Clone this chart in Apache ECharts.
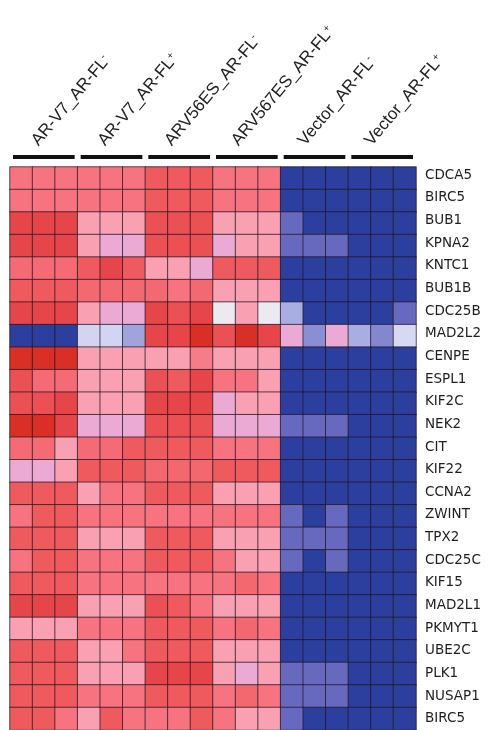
<!DOCTYPE html>
<html><head><meta charset="utf-8">
<script src="https://cdn.jsdelivr.net/npm/echarts@6/dist/echarts.min.js"></script>
<style>html,body{margin:0;padding:0;background:#fff}#c{width:489px;height:730px}</style>
</head><body><div id="c"></div>
<script>
// ---- data ----
const genes = ['CDCA5','BIRC5','BUB1','KPNA2','KNTC1','BUB1B','CDC25B','MAD2L2','CENPE','ESPL1','KIF2C','NEK2','CIT','KIF22','CCNA2','ZWINT','TPX2','CDC25C','KIF15','MAD2L1','PKMYT1','UBE2C','PLK1','NUSAP1','BIRC5'];
const groupNames = ['AR-V7_AR-FL','AR-V7_AR-FL','ARV56ES_AR-FL','ARV567ES_AR-FL','Vector_AR-FL','Vector_AR-FL'];
const groupSigns = ['-','+','-','+','-','+'];
const replicates = ['1','2','3'];
const samples = [];
groupNames.forEach((g, i) => replicates.forEach(r => samples.push(g + groupSigns[i] + '_' + r)));
// relative expression per gene (row) for the 18 samples (columns)
const expression = [
  [3,3,3, 3,3,3, 4,4,4, 3,3,3, -5,-5,-5,-5,-5,-5],
  [3,3,3, 3,3,3, 4,4,4, 3,3,3, -5,-5,-5,-5,-5,-5],
  [5,5,5, 2,2,2, 4.5,4.5,4.5, 2,2,2, -4,-5,-5,-5,-5,-5],
  [5,5,5, 2,1,1, 4.5,4.5,4.5, 1,2,2, -4,-4,-4,-5,-5,-5],
  [3.3,3.3,3.3, 4,5,4, 2,2,1, 4,4,4, -5,-5,-5,-5,-5,-5],
  [4,4,4, 3.4,3.4,3.4, 3.4,3,3.4, 2,2,2, -5,-5,-5,-5,-5,-5],
  [5,5,5, 2,1,1, 5,4.5,5, 0,2,0, -2,-5,-5,-5,-5,-4],
  [-5,-5,-5, -1,-1,-2.3, 5,5,6, 4.5,6,5, 1,-3,1,-2,-3.2,-0.8],
  [6,6,6, 2,2,2, 2,2,2.8, 2,2,2, -5,-5,-5,-5,-5,-5],
  [4.5,3.3,3.3, 2,2,2, 4.5,4,5, 3,3,2, -5,-5,-5,-5,-5,-5],
  [4.5,4.5,5, 2,2,2, 5,5,5, 1,2,2, -5,-5,-5,-5,-5,-5],
  [6,6,5, 1,1,1, 4.5,4.5,4.5, 1,1,1, -4,-4,-4,-5,-5,-5],
  [3.3,3.3,2, 3.3,3.3,4, 4,4,4, 3,3,3, -5,-5,-5,-5,-5,-5],
  [1,1,2, 4,4,4, 3.5,3.5,3.5, 4,4,4, -5,-5,-5,-5,-5,-5],
  [4,4,4, 2,3,3, 4,4,4, 2,2,2, -5,-5,-5,-5,-5,-5],
  [3,4,4, 3,3,3, 3,3,3, 3,3,3, -4,-5,-4,-5,-5,-5],
  [4,4,4, 2,2,2, 4,4,4, 2,2,2, -4,-4,-4,-5,-5,-5],
  [3,4,4, 3,3,3, 4,4,4, 3,2,2, -4,-5,-4,-5,-5,-5],
  [4,4,4, 3,3,3, 3,3,3, 3,3.5,3, -5,-5,-5,-5,-5,-5],
  [5,5,5, 2,2,2, 4.5,4,3, 2,2,2, -5,-5,-5,-5,-5,-5],
  [2,2,2, 3,3,3, 4,4,4, 3,3.5,3, -5,-5,-5,-5,-5,-5],
  [4,4,4, 2,2,3, 4,4,4, 2,2,2, -5,-5,-5,-5,-5,-5],
  [4,4,4, 2,2,2, 5,5,5, 2,1,2, -4,-4,-4,-5,-5,-5],
  [4,4,4, 3,3,3, 4,4,4, 3,3.5,3, -4,-4,-4,-5,-5,-5],
  [4,4,3, 2,4,3, 3,3,4, 3,2,2, -4,-5,-5,-5,-5,-5]
];

// ---- chart ----
const palette = ['#2c3e9e','#6669bd','#8a8ed2','#a8ade2','#d2d5f2','#ece9f1','#ebaad4','#f9a0b2','#f6737f','#ef5a5e','#e6454a','#d92f26'];
const heatData = [];
expression.forEach((row, r) => row.forEach((v, c) => heatData.push([c, r, v])));
const groupData = groupNames.map((g, i) => [i * 3 + 1, 0, i]);
const ANG = 50 * Math.PI / 180;

const chart = echarts.init(document.getElementById('c'), null, {renderer: 'canvas'});
chart.setOption({
  animation: false,
  backgroundColor: '#ffffff',
  grid: [
    {left: 10, top: 167, width: 406, height: 563},
    {left: 10, top: 164, width: 406, height: 569}
  ],
  xAxis: [
    {type: 'category', data: samples, position: 'top', gridIndex: 0,
      axisLine: {show: false}, axisTick: {show: false}, axisLabel: {show: false}, splitLine: {show: false}},
    {type: 'category', data: samples, gridIndex: 1, show: false}
  ],
  yAxis: [
    {type: 'category', data: genes, inverse: true, gridIndex: 0, show: false},
    {type: 'category', data: genes, inverse: true, position: 'right', gridIndex: 1,
      axisLine: {show: false}, axisTick: {show: false}, splitLine: {show: false},
      axisLabel: {color: '#1e1e1e', fontFamily: 'DejaVu Sans', fontSize: 13.5, margin: 9}}
  ],
  visualMap: {show: false, type: 'continuous', min: -5, max: 6, dimension: 2, seriesIndex: 0,
    inRange: {color: palette}},
  series: [
    {type: 'heatmap', data: heatData, silent: true, xAxisIndex: 0, yAxisIndex: 0,
      itemStyle: {borderColor: 'rgba(35,20,30,0.72)', borderWidth: 1},
      emphasis: {disabled: true}},
    {type: 'custom', data: groupData, silent: true, clip: false, xAxisIndex: 0, yAxisIndex: 0,
      renderItem: function (params, api) {
        const i = api.value(2);
        const c = api.coord([api.value(0), api.value(1)]);
        const sz = api.size([1, 1]);
        const top = c[1] - sz[1] / 2;
        const x0 = c[0] - 1.5 * sz[0] + 3, x1 = c[0] + 1.5 * sz[0] - 3;
        return {type: 'group', children: [
          {type: 'line', shape: {x1: x0, y1: top - 10, x2: x1, y2: top - 10},
            style: {stroke: '#111', lineWidth: 4}},
          {type: 'text', x: c[0] - 2.5 - 1.0 * i, y: top - 18, rotation: ANG,
            style: {text: groupNames[i] + '{s|' + groupSigns[i] + '}',
              rich: {s: {fontSize: 10, verticalAlign: 'top', fontFamily: 'Liberation Sans', fill: '#222'}},
              fontSize: 17, fontFamily: 'Liberation Sans', fill: '#222',
              align: 'left', verticalAlign: 'bottom'}}
        ]};
      }}
  ]
});
</script></body></html>
